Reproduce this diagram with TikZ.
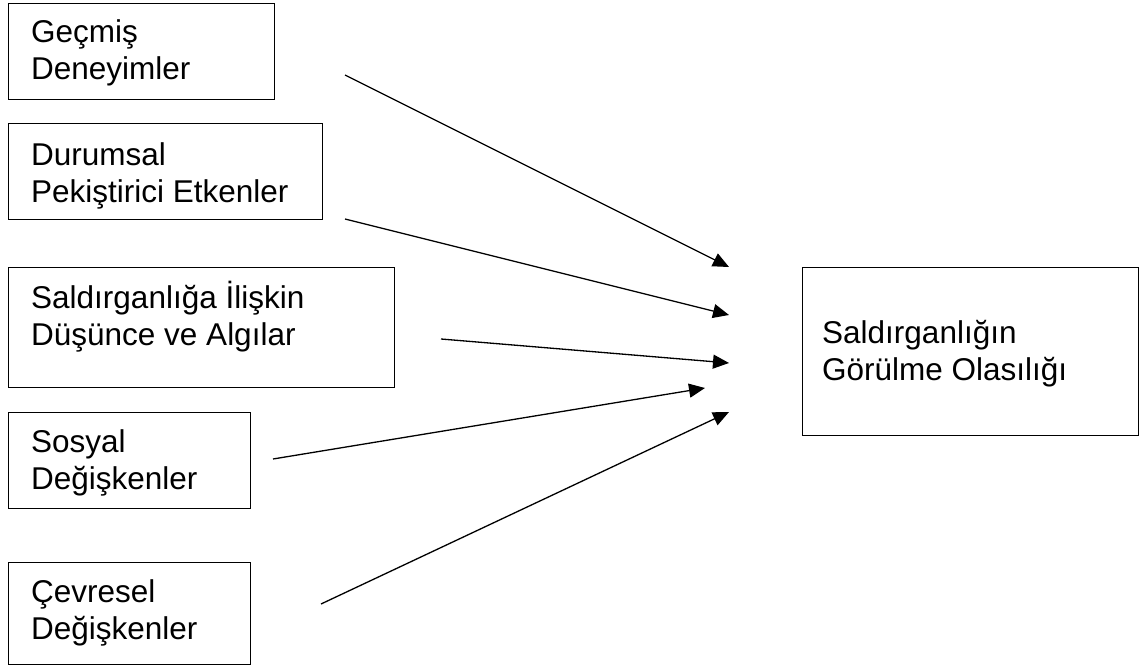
\documentclass[tikz,border=0pt]{standalone}
\usepackage{fontspec}
\setmainfont{Liberation Sans}
\usetikzlibrary{arrows.meta}
\begin{document}
\begin{tikzpicture}[x=1pt,y=-1pt,
  box/.style={draw=black,line width=1.3pt,rectangle,inner sep=0pt,anchor=north west},
  lbl/.style={anchor=base west,inner sep=0pt,font=\fontsize{31.5}{37}\selectfont},
  link/.style={line width=1.3pt,-{Triangle[length=16pt,width=14pt]}}]
\useasboundingbox[fill=white] (0,0) rectangle (1144,666);
% boxes
\node[box,minimum width=266pt,minimum height=96pt] (b1) at (8,3) {};
\node[box,minimum width=314pt,minimum height=96pt] (b2) at (8,123) {};
\node[box,minimum width=386pt,minimum height=120pt] (b3) at (8,267) {};
\node[box,minimum width=242pt,minimum height=96pt] (b4) at (8,412) {};
\node[box,minimum width=242pt,minimum height=102pt] (b5) at (8,562) {};
\node[box,minimum width=336pt,minimum height=168pt] (r) at (802,267) {};
% texts
\node[lbl] (t1a) at (31,43) {Geçmiş};
\node[lbl] (t1b) at (31,80) {Deneyimler};
\node[lbl] (t2a) at (31,166) {Durumsal};
\node[lbl] (t2b) at (31,203) {Pekiştirici Etkenler};
\node[lbl] (t3a) at (31,308) {Saldırganlığa İlişkin};
\node[lbl] (t3b) at (31,345) {Düşünce ve Algılar};
\node[lbl] (t4a) at (31,452) {Sosyal};
\node[lbl] (t4b) at (31,489) {Değişkenler};
\node[lbl] (t5a) at (31,602) {Çevresel};
\node[lbl] (t5b) at (31,639) {Değişkenler};
\node[lbl] (tra) at (822,343) {Saldırganlığın};
\node[lbl] (trb) at (822,380) {Görülme Olasılığı};
% connector ends
\coordinate (s1) at (345,75);
\coordinate (e1) at (729,267);
\coordinate (s2) at (345,219);
\coordinate (e2) at (729,315);
\coordinate (s3) at (441,339);
\coordinate (e3) at (729,363);
\coordinate (s4) at (273,459);
\coordinate (e4) at (705,388);
\coordinate (s5) at (321,604);
\coordinate (e5) at (729,412);
\draw[link] (s1) -- (e1);
\draw[link] (s2) -- (e2);
\draw[link] (s3) -- (e3);
\draw[link] (s4) -- (e4);
\draw[link] (s5) -- (e5);
\end{tikzpicture}
\end{document}
